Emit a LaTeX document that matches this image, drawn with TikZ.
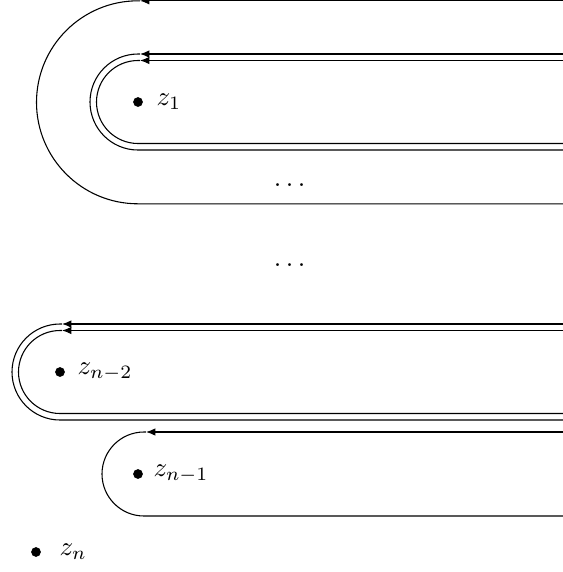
\documentclass[tikz,border=0pt]{standalone}
\usepackage{amsmath}
\usetikzlibrary{arrows.meta}
\newcommand{\unitsize}{0.37pt}

\begin{document}
\begin{tikzpicture}[x=\unitsize,y=\unitsize]
\useasboundingbox (0,0) rectangle (563,-572);
\tikzstyle{every node}=[inner sep=0pt]
\tikzstyle{tip}=[-{Latex[length=3.5pt,width=2.8pt]}]
\tikzstyle{pole}=[circle,
                  fill,
                  minimum size=3.6pt,
                  inner sep=0pt
                  ]
\tikzstyle{poletext}=[anchor=west]
% loop around z_1
\draw[tip] (563,-0.8) -- (140,-0.8);
\draw (140,-0.8) -- (138,-0.8) arc[start angle=90, end angle=270, radius=101.5] -- (563,-203.8);
\draw[tip] (563,-54) -- (140,-54);
\draw (140,-54) -- (138,-54) arc[start angle=90, end angle=270, radius=48] -- (563,-150);
\draw[tip] (563,-60.5) -- (140,-60.5);
\draw (140,-60.5) -- (138,-60.5) arc[start angle=90, end angle=270, radius=41.5] -- (563,-143.5);
% loop around z_{n-2}
\draw[tip] (563,-324) -- (62,-324);
\draw (62,-324) -- (60,-324) arc[start angle=90, end angle=270, radius=48] -- (563,-420);
\draw[tip] (563,-330.5) -- (62,-330.5);
\draw (62,-330.5) -- (60,-330.5) arc[start angle=90, end angle=270, radius=41.5] -- (563,-413.5);
% loop around z_{n-1}
\draw[tip] (563,-432) -- (146,-432);
\draw (146,-432) -- (144,-432) arc[start angle=90, end angle=270, radius=42] -- (563,-516);
% poles
\node[pole] (p1) at (138,-102) {};
\node[poletext] (l1) at (156,-102) {$z_1$};
\node[pole] (p2) at (60,-372) {};
\node[poletext] (l2) at (77,-372) {$z_{n-2}$};
\node[pole] (p3) at (138,-474) {};
\node[poletext] (l3) at (153,-474) {$z_{n-1}$};
\node[pole] (p4) at (36,-552) {};
\node[poletext] (l4) at (59,-552) {$z_n$};
% dots
\node[anchor=base] (d1) at (292,-186) {$\dots$};
\node[anchor=base] (d2) at (292,-266) {$\dots$};
\end{tikzpicture}
\end{document}
